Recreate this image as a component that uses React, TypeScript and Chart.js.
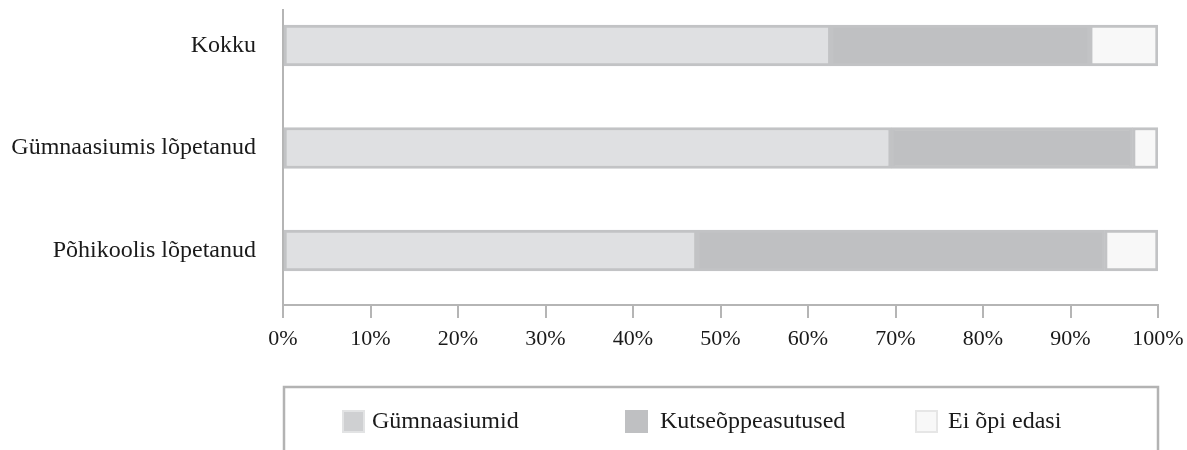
import React, { useEffect, useRef } from "react";
import { Chart, registerables } from "chart.js";

Chart.register(...registerables);

const categories = ["Kokku", "Gümnaasiumis lõpetanud", "Põhikoolis lõpetanud"];
const seriesNames = ["Gümnaasiumid", "Kutseõppeasutused", "Ei õpi edasi"];
const gymnasiumValues = [62.6, 69.5, 47.3];
const vocationalValues = [29.6, 27.6, 46.6];
const notStudyingValues = [7.8, 2.9, 6.1];
const xTickLabels = ["0%", "10%", "20%", "30%", "40%", "50%", "60%", "70%", "80%", "90%", "100%"];

const fills = ["#dfe0e2", "#bfc0c2", "#f8f8f8"];
const legendFills = ["#cfd0d2", "#bfc0c2", "#f8f8f8"];
const legendBorders = ["#e2e3e4", "#bfc0c2", "#e6e6e6"];
const FONT = "'Liberation Serif', 'Times New Roman', serif";

const legendPlugin = {
  id: "boxLegend",
  afterDraw(chart: any) {
    const ctx = chart.ctx;
    const { left, right } = chart.chartArea;
    ctx.save();
    ctx.strokeStyle = "#b3b3b3";
    ctx.lineWidth = 2.5;
    ctx.beginPath();
    ctx.moveTo(left + 1, 460);
    ctx.lineTo(left + 1, 387);
    ctx.lineTo(right, 387);
    ctx.lineTo(right, 460);
    ctx.stroke();
    const boxX = [342, 625, 915];
    const textX = [372, 660, 948];
    chart.data.datasets.forEach((ds: any, i: number) => {
      ctx.fillStyle = legendBorders[i];
      ctx.fillRect(boxX[i], 410, 23, 23);
      ctx.fillStyle = legendFills[i];
      ctx.fillRect(boxX[i] + 2, 412, 19, 19);
      ctx.fillStyle = "#1a1a1a";
      ctx.font = `24px ${FONT}`;
      ctx.textBaseline = "middle";
      ctx.textAlign = "left";
      ctx.fillText(ds.label, textX[i], 422);
    });
    ctx.restore();
  },
};

export default function App() {
  const ref = useRef<HTMLCanvasElement>(null);
  useEffect(() => {
    const seriesValues = [gymnasiumValues, vocationalValues, notStudyingValues];
    const chart = new Chart(ref.current as HTMLCanvasElement, {
      type: "bar",
      data: {
        datasets: seriesNames.map((name, i) => ({
          label: name,
          data: seriesValues[i].map((v, j) => ({ x: v, y: j })),
          backgroundColor: fills[i],
          borderColor: "#c2c3c5",
          borderWidth: 3,
          borderSkipped: false,
          barThickness: 41,
        })),
      },
      options: {
        indexAxis: "y",
        responsive: false,
        animation: false,
        layout: { padding: { top: 10, right: 29, left: 0, bottom: 0 } },
        plugins: { legend: { display: false }, tooltip: { enabled: false } },
        scales: {
          x: {
            type: "linear",
            stacked: true,
            min: 0,
            max: 100,
            afterFit: (s: any) => {
              s.height = 145;
              s.paddingLeft = 0;
              s.paddingRight = 0;
            },
            ticks: {
              stepSize: 10,
              padding: 8,
              color: "#1a1a1a",
              font: { family: FONT, size: 22 },
              callback: (_v: any, i: number) => xTickLabels[i],
              maxRotation: 0,
            },
            grid: {
              display: true,
              drawOnChartArea: false,
              drawTicks: true,
              tickLength: 13,
              color: "#b5b5b5",
              lineWidth: 2,
            },
            border: { display: true, color: "#b5b5b5", width: 2 },
          },
          y: {
            type: "linear",
            stacked: true,
            reverse: true,
            offset: false,
            grace: 0,
            bounds: "data",
            min: -0.346,
            max: 2.532,
            afterBuildTicks: (s: any) => {
              s.ticks = categories.map((_c, i) => ({ value: i }));
            },
            afterFit: (s: any) => {
              s.width = 283;
              s.paddingTop = 0;
              s.paddingBottom = 0;
            },
            ticks: {
              padding: 27,
              color: "#1a1a1a",
              font: { family: FONT, size: 24 },
              callback: (v: any) => categories[v],
            },
            grid: { display: false, drawTicks: false, offset: false },
            border: { display: true, color: "#b5b5b5", width: 2 },
          },
        },
      },
      plugins: [legendPlugin],
    } as any);
    return () => chart.destroy();
  }, []);
  return (
    <div style={{ position: "absolute", left: 0, top: 0 }}>
      <canvas ref={ref} width={1187} height={450} style={{ display: "block" }} />
    </div>
  );
}
